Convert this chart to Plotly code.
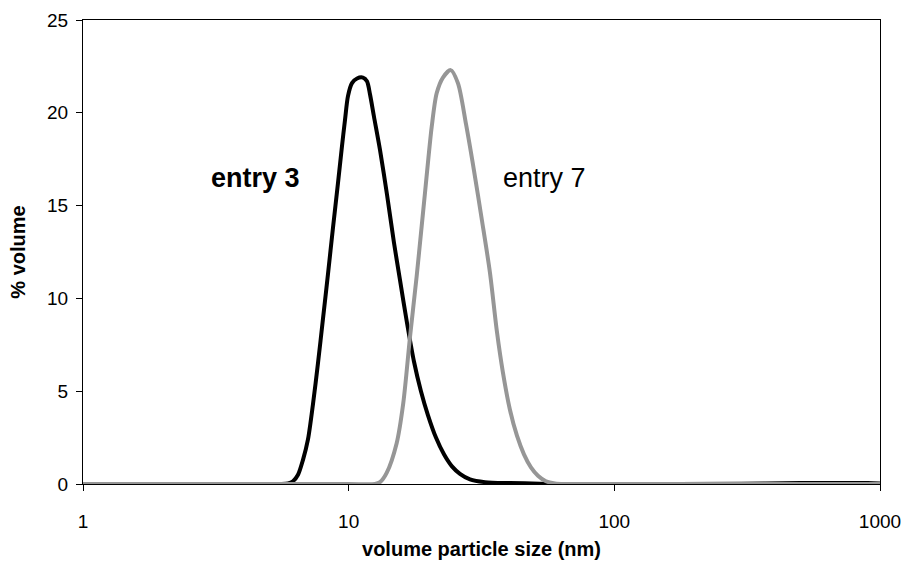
import plotly.graph_objects as go

# entry 3 (black) - particle size (nm) and % volume
x_entry3 = [1, 3, 5.5, 5.909, 6.172, 6.446, 6.730, 7.028, 7.339, 7.664, 8.004, 8.357, 8.728,
            9.114, 9.436, 9.685, 9.940, 10.29, 10.75, 11.32, 11.72, 12.03, 12.45, 13.12,
            13.94, 14.81, 15.60, 16.57, 17.61, 18.71, 19.89, 21.31, 22.84, 24.48, 26.24,
            28.62, 32.59, 40.46, 52.48, 62.43, 100, 300, 500, 900, 1000]
y_entry3 = [0, 0, 0, 0.03, 0.15, 0.5, 1.3, 2.4, 4.3, 6.5, 8.9, 11.3, 13.8,
            16.2, 18.2, 19.6, 20.9, 21.6, 21.85, 21.9, 21.7, 21.0, 19.8, 18.0,
            15.6, 13.0, 11.0, 8.7, 6.6, 5.0, 3.7, 2.5, 1.6, 0.95, 0.55,
            0.25, 0.1, 0.05, 0.02, 0, 0, 0.01, 0.05, 0.05, 0.03]

# entry 7 (grey)
x_entry7 = [1, 5, 10, 12.56, 13.12, 13.90, 15.16, 16.05, 17.01, 18.03, 18.83, 19.38, 19.94,
            20.54, 21.44, 22.64, 24.21, 25.78, 27.64, 29.62, 31.75, 34.02, 36.15, 38.08,
            40.46, 43.00, 45.69, 48.55, 51.59, 55.29, 59.79, 65.18, 100, 300, 1000]
y_entry7 = [0, 0, 0, 0, 0.1, 0.6, 2.2, 4.35, 7.9, 11.2, 13.9, 15.7, 17.5,
            19.25, 21.05, 21.9, 22.3, 21.6, 19.4, 16.9, 14.2, 11.4, 8.2, 6.0,
            4.0, 2.6, 1.6, 0.9, 0.45, 0.15, 0.03, 0, 0, 0, 0]

x_tickvals = [1, 10, 100, 1000]
y_tickvals = [0, 5, 10, 15, 20, 25]

FONT = "Liberation Sans, Arial, sans-serif"

fig = go.Figure()
fig.add_trace(go.Scatter(x=x_entry3, y=y_entry3, mode="lines",
                         line=dict(color="#000000", width=4, shape="spline", smoothing=0.8),
                         name="entry 3", showlegend=False))
fig.add_trace(go.Scatter(x=x_entry7, y=y_entry7, mode="lines",
                         line=dict(color="#969696", width=4, shape="spline", smoothing=0.8),
                         name="entry 7", showlegend=False))

fig.add_annotation(x=0.651, y=16.5, xref="x", yref="y", text="<b>entry 3</b>",
                   showarrow=False, font=dict(family=FONT, size=27, color="#000000"))
fig.add_annotation(x=1.739, y=16.5, xref="x", yref="y", text="entry 7",
                   showarrow=False, font=dict(family=FONT, size=27, color="#000000"))

fig.update_layout(
    width=906, height=565,
    margin=dict(l=83, r=26, t=20, b=81),
    paper_bgcolor="white", plot_bgcolor="white",
    font=dict(family=FONT, color="#000000"),
)
fig.update_xaxes(
    type="log", range=[0, 3], tickvals=x_tickvals, ticktext=[str(v) for v in x_tickvals],
    showgrid=False, zeroline=False, showline=True, linecolor="#000000", linewidth=1, mirror=True,
    ticks="outside", ticklen=6, tickcolor="#000000", tickfont=dict(size=19),
    ticklabelstandoff=14, automargin=False,
    title=dict(text="<b>volume particle size (nm)</b>", font=dict(size=20), standoff=11),
)
fig.update_yaxes(
    range=[0, 25], tickvals=y_tickvals,
    showgrid=False, zeroline=False, showline=True, linecolor="#000000", linewidth=1, mirror=True,
    ticks="outside", ticklen=6, tickcolor="#000000", tickfont=dict(size=19),
    ticklabelstandoff=4, automargin=False,
    title=dict(text="<b>% volume</b>", font=dict(size=20), standoff=16),
)

fig.write_html("out.html")
